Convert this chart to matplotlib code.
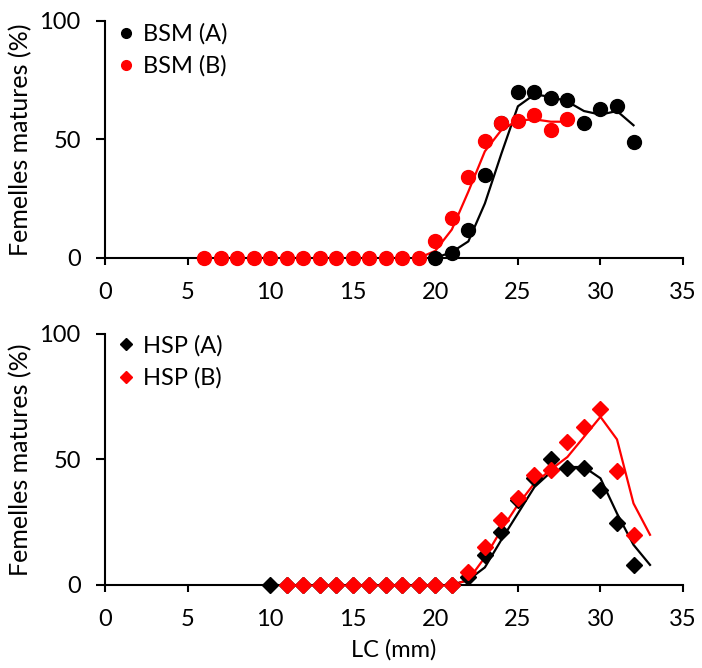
import matplotlib
matplotlib.use("Agg")
import matplotlib.pyplot as plt
from matplotlib.lines import Line2D

plt.rcParams['font.family'] = ['Lato', 'DejaVu Sans']

# --- top panel: BSM ---
bsm_a_x = [20, 21, 22, 23, 24, 25, 26, 27, 28, 29, 30, 31, 32]
bsm_a_y = [0, 2, 12, 35, 57, 70, 70, 67.5, 66.5, 57, 63, 64, 49]
bsm_a_fit_x = [20, 21, 22, 23, 24, 25, 26, 27, 28, 29, 30, 31, 32]
bsm_a_fit_y = [0, 2.5, 7, 23, 44, 64, 69, 68, 66, 62, 60.5, 62, 56]

bsm_b_x = [6, 7, 8, 9, 10, 11, 12, 13, 14, 15, 16, 17, 18, 19, 20, 21, 22, 23, 24, 25, 26, 27, 28]
bsm_b_y = [0, 0, 0, 0, 0, 0, 0, 0, 0, 0, 0, 0, 0, 0, 7, 17, 34, 49.5, 57, 58, 60.5, 54, 58.5]
bsm_b_fit_x = [19, 20, 21, 22, 23, 24, 25, 26, 27, 28]
bsm_b_fit_y = [0, 3, 12, 28, 45, 54, 58, 58.5, 57.5, 57.5]

# --- bottom panel: HSP ---
hsp_a_x = [10, 11, 12, 13, 14, 15, 16, 17, 18, 19, 20, 21, 22, 23, 24, 25, 26, 27, 28, 29, 30, 31, 32]
hsp_a_y = [0, 0, 0, 0, 0, 0, 0, 0, 0, 0, 0, 0, 3, 12, 21, 34, 42.5, 50, 46.5, 46.5, 38, 24.5, 8]
hsp_a_fit_x = [21, 22, 23, 24, 25, 26, 27, 28, 29, 30, 31, 32, 33]
hsp_a_fit_y = [0, 2, 7, 18, 28.5, 39, 45, 47, 47, 42.5, 28.5, 16, 8]

hsp_b_x = [11, 12, 13, 14, 15, 16, 17, 18, 19, 20, 21, 22, 23, 24, 25, 26, 27, 28, 29, 30, 31, 32]
hsp_b_y = [0, 0, 0, 0, 0, 0, 0, 0, 0, 0, 0, 5, 15, 26, 34.5, 44, 46, 57, 63, 70, 45.5, 20]
hsp_b_fit_x = [21, 22, 23, 24, 25, 26, 27, 28, 29, 30, 31, 32, 33]
hsp_b_fit_y = [0, 2, 11, 22, 32, 40.5, 46, 51, 59, 67, 58, 32.5, 20]

xticks = [0, 5, 10, 15, 20, 25, 30, 35]
yticks = [0, 50, 100]
fs = 17

fig = plt.figure(figsize=(7.02, 6.68), dpi=100)
ax1 = fig.add_axes([0.1496, 0.6138, 0.8234, 0.3548])
ax2 = fig.add_axes([0.1496, 0.1243, 0.8234, 0.3757])


def style(ax):
    ax.set_xlim(0, 35)
    ax.set_ylim(0, 100)
    ax.set_xticks(xticks)
    ax.set_yticks(yticks)
    ax.spines['top'].set_visible(False)
    ax.spines['right'].set_visible(False)
    ax.spines['left'].set_linewidth(1.5)
    ax.spines['bottom'].set_linewidth(1.5)
    ax.tick_params(axis='x', direction='out', length=5, width=1.5, labelsize=fs, pad=12)
    ax.tick_params(axis='y', direction='out', length=6.5, width=1.5, labelsize=fs, pad=11)
    ax.set_ylabel('Femelles matures (%)', fontsize=18, labelpad=5)


# top
ax1.plot(bsm_a_fit_x, bsm_a_fit_y, color='black', lw=1.6, zorder=2)
ax1.plot(bsm_b_fit_x, bsm_b_fit_y, color='red', lw=1.6, zorder=2)
ax1.plot(bsm_a_x, bsm_a_y, 'o', color='black', ms=10, clip_on=False, zorder=3)
ax1.plot(bsm_b_x, bsm_b_y, 'o', color='red', ms=10, clip_on=False, zorder=4)
style(ax1)
h1 = [Line2D([], [], ls='none', marker='o', color='black', ms=7),
      Line2D([], [], ls='none', marker='o', color='red', ms=7)]
ax1.legend(h1, ['BSM (A)', 'BSM (B)'], loc='upper left', bbox_to_anchor=(-0.012, 1.08),
           frameon=False, fontsize=fs, handlelength=0.6, handletextpad=0.4, labelspacing=0.45)

# bottom
ax2.plot(hsp_a_fit_x, hsp_a_fit_y, color='black', lw=1.6, zorder=2)
ax2.plot(hsp_b_fit_x, hsp_b_fit_y, color='red', lw=1.6, zorder=2)
ax2.plot(hsp_a_x, hsp_a_y, 'D', color='black', ms=8, clip_on=False, zorder=3)
ax2.plot(hsp_b_x, hsp_b_y, 'D', color='red', ms=8, clip_on=False, zorder=4)
style(ax2)
ax2.set_xlabel('LC (mm)', fontsize=fs, labelpad=7)
h2 = [Line2D([], [], ls='none', marker='D', color='black', ms=6),
      Line2D([], [], ls='none', marker='D', color='red', ms=6)]
ax2.legend(h2, ['HSP (A)', 'HSP (B)'], loc='upper left', bbox_to_anchor=(-0.012, 1.08),
           frameon=False, fontsize=fs, handlelength=0.6, handletextpad=0.4, labelspacing=0.45)

fig.savefig('out.png', dpi=100)
